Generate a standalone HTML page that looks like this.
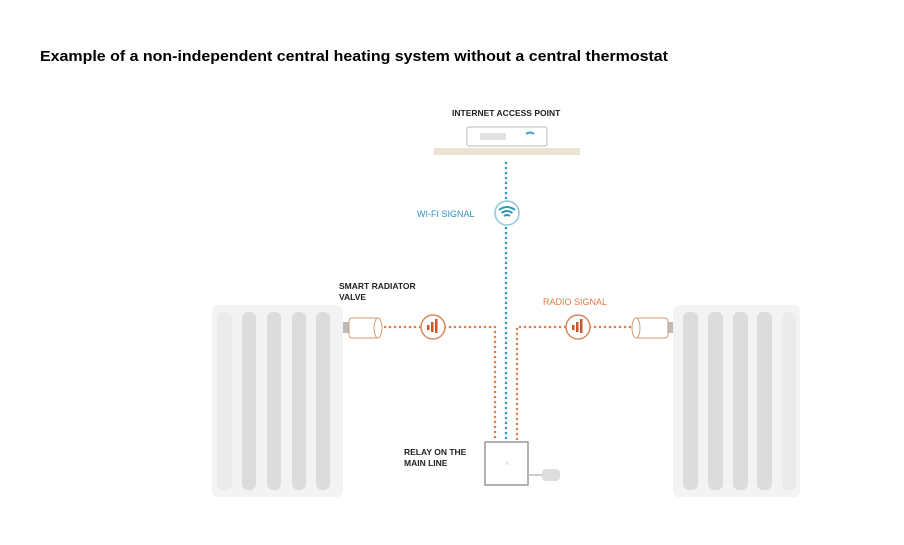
<!DOCTYPE html>
<html><head><meta charset="utf-8"><style>
html,body{margin:0;padding:0;background:#fff;width:904px;height:545px;overflow:hidden}
svg{display:block}
text{font-family:"Liberation Sans",sans-serif}
</style></head><body>
<svg width="904" height="545" viewBox="0 0 904 545">
<text x="40" y="61" font-size="15" font-weight="bold" fill="#000" textLength="628" lengthAdjust="spacingAndGlyphs">Example of a non-independent central heating system without a central thermostat</text>

<!-- radiators -->
<rect x="212" y="305" width="131" height="192" rx="6" fill="#f3f3f3"/>
<rect x="217" y="312" width="15" height="178" rx="6" fill="#ebebeb"/>
<rect x="242" y="312" width="14" height="178" rx="6" fill="#dcdcdc"/>
<rect x="267" y="312" width="14" height="178" rx="6" fill="#dcdcdc"/>
<rect x="292" y="312" width="14" height="178" rx="6" fill="#dcdcdc"/>
<rect x="316" y="312" width="14" height="178" rx="6" fill="#dcdcdc"/>

<rect x="673" y="305" width="127" height="192" rx="6" fill="#f3f3f3"/>
<rect x="683" y="312" width="15" height="178" rx="6" fill="#dcdcdc"/>
<rect x="708" y="312" width="15" height="178" rx="6" fill="#dcdcdc"/>
<rect x="733" y="312" width="15" height="178" rx="6" fill="#dcdcdc"/>
<rect x="757" y="312" width="15" height="178" rx="6" fill="#dcdcdc"/>
<rect x="782" y="312" width="14" height="178" rx="6" fill="#ebebeb"/>

<!-- access point -->
<text x="452" y="116" font-size="8.5" font-weight="bold" fill="#222">INTERNET ACCESS POINT</text>
<rect x="467" y="127" width="80" height="19" rx="2" fill="#fff" stroke="#bbb"/>
<rect x="480" y="133" width="26" height="7" fill="#e2e2e2"/>
<path d="M526 134 q4 -3 8 0" stroke="#4aa0c8" stroke-width="2" fill="none"/>
<rect x="434" y="148" width="146" height="7" fill="#ebe3d3"/>

<!-- dotted lines -->
<g stroke-linecap="round" fill="none">
<line x1="506" y1="163" x2="506" y2="440" stroke="#2f95b8" stroke-width="2.5" stroke-dasharray="0 5"/>
<path d="M385 327 H495 V440" stroke="#e07a45" stroke-width="2.5" stroke-dasharray="0 5"/>
<path d="M630 327 H517 V440" stroke="#e07a45" stroke-width="2.5" stroke-dasharray="0 5"/>
</g>

<!-- wifi circle -->
<circle cx="507" cy="213" r="12" fill="#fff" stroke="#8fc7dc" stroke-width="1.5"/>
<path d="M499 210 q8 -6 16 0 M501.5 213 q5.5 -4 11 0 M504 216 q3 -2 6 0" stroke="#2f95b8" stroke-width="2" fill="none"/>
<text x="417" y="217" font-size="9" fill="#2f95b8">WI-FI SIGNAL</text>

<!-- radio circles -->
<g>
<circle cx="433" cy="327" r="12" fill="#fff" stroke="#d88a5e" stroke-width="1.5"/>
<rect x="427" y="325" width="2.5" height="5" fill="#c9562a"/><rect x="431" y="322" width="2.5" height="10" fill="#c9562a"/><rect x="435" y="319" width="2.5" height="14" fill="#c9562a"/>
<circle cx="578" cy="327" r="12" fill="#fff" stroke="#d88a5e" stroke-width="1.5"/>
<rect x="572" y="325" width="2.5" height="5" fill="#c9562a"/><rect x="576" y="322" width="2.5" height="10" fill="#c9562a"/><rect x="580" y="319" width="2.5" height="14" fill="#c9562a"/>
</g>
<text x="543" y="305" font-size="9" fill="#e07a45">RADIO SIGNAL</text>

<!-- valves -->
<rect x="343" y="322" width="6" height="11" fill="#bbb"/>
<rect x="349" y="318" width="30" height="20" rx="3" fill="#fff" stroke="#d49a70"/>
<ellipse cx="378" cy="328" rx="4" ry="10" fill="#fff" stroke="#d49a70"/>
<rect x="668" y="322" width="5" height="11" fill="#bbb"/>
<rect x="636" y="318" width="32" height="20" rx="3" fill="#fff" stroke="#d49a70"/>
<ellipse cx="636" cy="328" rx="4" ry="10" fill="#fff" stroke="#d49a70"/>
<text x="339" y="289" font-size="8.5" font-weight="bold" fill="#222">SMART RADIATOR</text>
<text x="339" y="300" font-size="8.5" font-weight="bold" fill="#222">VALVE</text>

<!-- relay -->
<rect x="485" y="442" width="43" height="43" fill="#fff" stroke="#999" stroke-width="1.5"/>
<circle cx="507" cy="463" r="2" fill="#e4eef3"/>
<line x1="528" y1="475" x2="542" y2="475" stroke="#bbb" stroke-width="1.5"/>
<rect x="542" y="469" width="18" height="12" rx="4" fill="#ddd"/>
<text x="404" y="455" font-size="8.5" font-weight="bold" fill="#222">RELAY ON THE</text>
<text x="404" y="466" font-size="8.5" font-weight="bold" fill="#222">MAIN LINE</text>
</svg>
</body></html>
